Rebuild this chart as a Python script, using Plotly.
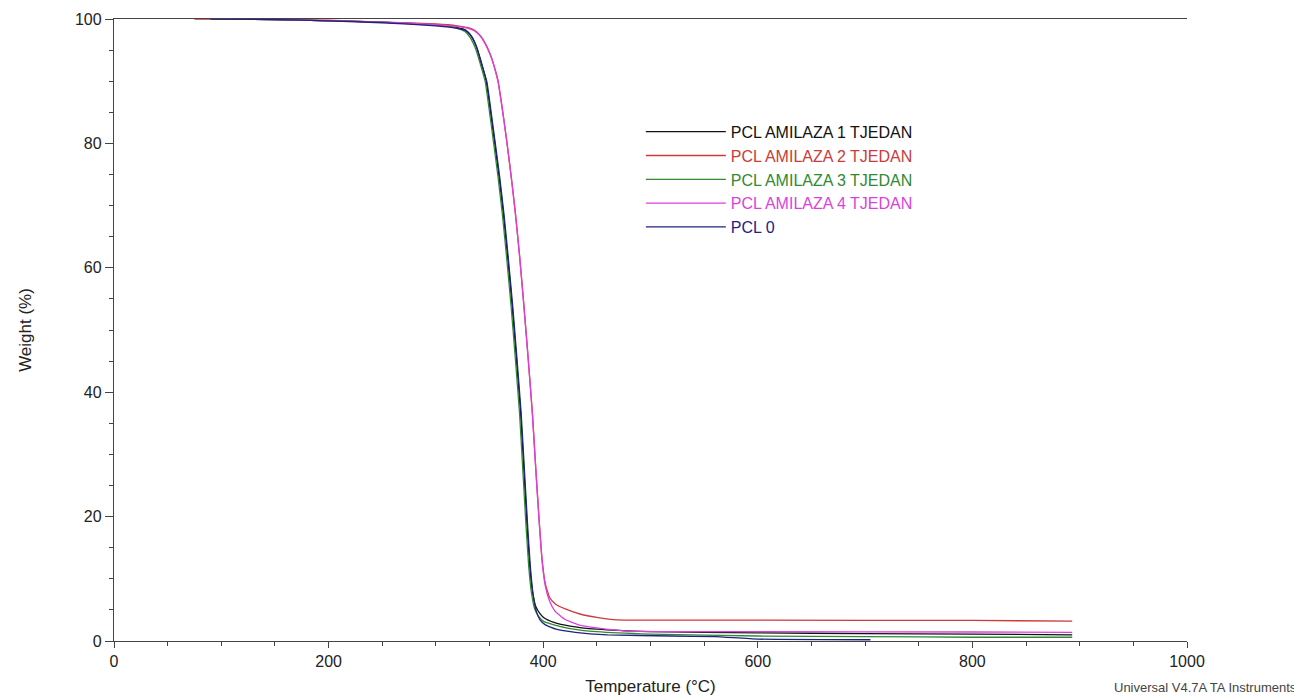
import plotly.graph_objects as go

# ---- data ----
t_black = [90, 150, 200, 250, 300, 320, 328, 333, 338, 342, 347, 351, 355, 359, 363, 367, 371, 375, 379, 382, 385, 387.5, 390, 393, 397, 401, 410, 425, 450, 500, 600, 700, 800, 893]
w_black = [100, 99.9, 99.7, 99.5, 99.0, 98.6, 98.2, 97.3, 95.5, 93.2, 89.9, 85.0, 79.8, 74.5, 68.5, 61.5, 54.0, 45.5, 36.5, 27.5, 18.5, 12.0, 8.0, 5.6, 4.4, 3.7, 3.0, 2.4, 1.9, 1.5, 1.3, 1.2, 1.1, 1.0]

t_red = [75, 150, 200, 250, 300, 320, 330, 336, 340, 344, 348, 352, 355, 358, 362, 366, 370, 374, 378, 382, 386, 390, 393, 396, 399, 402, 406, 411, 420, 435, 450, 469, 600, 800, 893]
w_red = [100, 99.9, 99.8, 99.5, 99.2, 98.9, 98.6, 98.2, 97.6, 96.7, 95.4, 93.7, 92.0, 90.0, 85.5, 80.5, 75.0, 69.0, 62.0, 54.0, 45.5, 36.5, 28.0, 20.0, 13.0, 9.2, 7.0, 6.0, 5.2, 4.3, 3.8, 3.4, 3.35, 3.3, 3.2]

t_green = [90, 150, 200, 250, 300, 320, 327, 332, 337, 341, 346, 350, 354, 358, 362, 366, 370, 374, 378, 381, 384, 386.5, 389, 392, 396, 400, 410, 425, 450, 500, 600, 700, 800, 893]
w_green = [100, 99.9, 99.7, 99.5, 99.0, 98.5, 98.0, 97.0, 95.2, 93.0, 89.9, 85.0, 79.8, 74.5, 68.5, 61.5, 54.0, 45.5, 36.5, 27.5, 18.5, 12.0, 7.8, 5.2, 3.9, 3.2, 2.6, 2.0, 1.5, 1.1, 0.8, 0.7, 0.6, 0.6]

t_pink = [90, 150, 200, 250, 300, 320, 330, 336, 340, 344, 348, 352, 355, 358, 362, 366, 370, 374, 378, 382, 386, 390, 393, 396, 399, 402, 406, 411, 420, 435, 450, 478, 600, 800, 893]
w_pink = [100, 99.9, 99.7, 99.5, 99.1, 98.8, 98.5, 98.1, 97.5, 96.6, 95.3, 93.6, 91.9, 89.8, 85.3, 80.3, 74.8, 68.8, 61.8, 53.8, 45.3, 36.3, 27.8, 19.8, 12.8, 8.8, 6.4, 4.8, 3.5, 2.5, 2.1, 1.6, 1.5, 1.45, 1.4]

t_blue = [90, 150, 200, 250, 300, 320, 328, 333, 338, 342, 347.5, 351.5, 355.5, 359.5, 363.5, 367.5, 371.5, 375.5, 379.5, 382.5, 385.5, 388, 390.5, 393.5, 397, 402, 412, 430, 460, 520, 560, 600, 705]
w_blue = [100, 99.9, 99.7, 99.4, 98.9, 98.5, 98.1, 97.2, 95.4, 93.1, 89.9, 85.0, 79.8, 74.5, 68.5, 61.5, 54.0, 45.5, 36.5, 27.5, 18.5, 12.0, 7.6, 4.8, 3.4, 2.6, 1.9, 1.4, 1.0, 0.8, 0.7, 0.3, 0.2]

series_names = ["PCL AMILAZA 1 TJEDAN", "PCL AMILAZA 2 TJEDAN", "PCL AMILAZA 3 TJEDAN",
                "PCL AMILAZA 4 TJEDAN", "PCL 0"]
series_colors = ["#111111", "#cc3a3a", "#2f8a32", "#dd3fdd", "#22227f"]
x_data = [t_black, t_red, t_green, t_pink, t_blue]
y_data = [w_black, w_red, w_green, w_pink, w_blue]

x_tickvals = [0, 200, 400, 600, 800, 1000]
y_tickvals = [0, 20, 40, 60, 80, 100]

FONT = "Liberation Sans, Arial, sans-serif"

fig = go.Figure()
for name, color, xs, ys in zip(series_names, series_colors, x_data, y_data):
    fig.add_trace(go.Scatter(
        x=xs, y=ys, mode="lines",
        line=dict(color=color, width=1.3, shape="spline", smoothing=0.4),
        name=f"<span style='color:{color}'>{name}</span>",
    ))

# page body has an 8px margin, so the figure is 8px smaller than the window
fig.update_layout(
    width=1294, height=692,
    paper_bgcolor="white", plot_bgcolor="white",
    margin=dict(l=106, r=115, t=11, b=59, autoexpand=False),
    font=dict(family=FONT, size=14, color="#222"),
    legend=dict(
        x=0.491, y=0.846, xanchor="left", yanchor="top",
        bgcolor="rgba(0,0,0,0)", itemwidth=80,
        font=dict(size=16, family=FONT),
        tracegroupgap=0,
    ),
    showlegend=True,
)

fig.update_xaxes(
    range=[0, 1000], tickvals=x_tickvals, ticktext=[str(v) for v in x_tickvals],
    showgrid=False, zeroline=False, showline=True, linecolor="#444", linewidth=1.3,
    mirror=True, ticks="outside", ticklen=6, tickcolor="#444", automargin=False,
    minor=dict(dtick=50, ticks="outside", ticklen=4, tickcolor="#444"),
    tickfont=dict(size=16, color="#222"),
    title=dict(text="Temperature (°C)", font=dict(size=17, color="#222"), standoff=10),
)
fig.update_yaxes(
    range=[0, 100], tickvals=y_tickvals, ticktext=[str(v) for v in y_tickvals],
    showgrid=False, zeroline=False, showline=True, linecolor="#444", linewidth=1.3,
    ticks="outside", ticklen=8, tickcolor="#444", automargin=False,
    minor=dict(dtick=5, ticks="outside", ticklen=4, tickcolor="#444"),
    tickfont=dict(size=16, color="#222"),
    title=dict(text="Weight (%)", font=dict(size=17, color="#222"), standoff=38),
)

fig.add_annotation(
    text="Universal V4.7A TA Instruments", xref="paper", yref="paper",
    x=1.017, y=-0.074, xanchor="center", yanchor="middle", showarrow=False,
    font=dict(size=13, color="#444"),
)

fig.write_html("out.html")
